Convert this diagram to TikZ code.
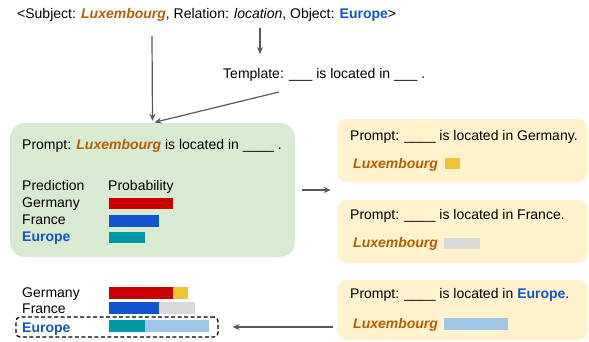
\documentclass[tikz,border=0pt]{standalone}
\usepackage{fontspec}
\setmainfont{Liberation Sans}
\usetikzlibrary{arrows.meta}
\definecolor{luxorange}{HTML}{B45F06}
\definecolor{eurblue}{HTML}{1155CC}
\definecolor{barred}{HTML}{CC0000}
\definecolor{barblue}{HTML}{1155CC}
\definecolor{barteal}{HTML}{0097A7}
\definecolor{baryellow}{HTML}{F1C232}
\definecolor{bargray}{HTML}{D9D9D9}
\definecolor{barlight}{HTML}{9FC5E8}
\definecolor{greenfill}{HTML}{D9EAD3}
\definecolor{yellowfill}{HTML}{FFF2CC}
\definecolor{arrowgray}{HTML}{595959}
\newcommand{\lux}{\textcolor{luxorange}{\textbf{\textit{Luxembourg}}}}
\newcommand{\eur}{\textcolor{eurblue}{\textbf{Europe}}}

\begin{document}
\begin{tikzpicture}[
		x = 1pt,
		y = -1pt,
		txt/.style = {
			anchor = base west,
			inner sep = 0,
			font = \fontsize{14}{16}\selectfont
		},
		greenbox/.style = {
			rectangle,
			fill = greenfill,
			rounded corners = 15pt,
			inner sep = 0,
			minimum width = 285pt,
			minimum height = 134pt
		},
		yellowbox/.style = {
			rectangle,
			fill = yellowfill,
			rounded corners = 10pt,
			inner sep = 0,
			minimum width = 251pt
		},
		dashbox/.style = {
			rectangle,
			draw,
			dash pattern = on 4pt off 2.5pt,
			line width = 1.2pt,
			rounded corners = 4pt,
			inner sep = 0,
			minimum width = 202pt,
			minimum height = 20pt
		},
		conn/.style = {
			draw = arrowgray,
			line width = 1.2pt,
			-{Stealth[length = 7pt, width = 6pt]}
		}
	]
	\useasboundingbox (0,0) rectangle (589,341);

	\node [txt] (triple) at (17,18) {<Subject: \lux, Relation: \textit{location}, Object: \eur>};
	\node [txt] (template) at (223,78) {Template: \_\_\_ is located in \_\_\_ .};

	\node [greenbox] (green) at (152.5,190) {};
	\node [yellowbox, minimum height = 63pt] (germanybox) at (462.5,150.5) {};
	\node [yellowbox, minimum height = 63pt] (francebox) at (462.5,231.5) {};
	\node [yellowbox, minimum height = 60pt] (europebox) at (462.5,310) {};

	\node [txt] (prompt) at (22,149) {Prompt: \lux{} is located in \_\_\_\_ .};
	\node [txt] (predhead) at (22,190) {Prediction};
	\node [txt] (probhead) at (108,190) {Probability};
	\node [txt] (germany) at (22,207) {Germany};
	\node [txt] (france) at (22,224) {France};
	\node [txt] (europe) at (22,241) {\eur};
	\fill [barred] (109,198) rectangle (173,209);
	\fill [barblue] (109,215) rectangle (159,227);
	\fill [barteal] (109,232) rectangle (145,243);

	\node [txt] (promptde) at (350,140) {Prompt: \_\_\_\_ is located in Germany.};
	\node [txt] (luxde) at (353,168) {\lux};
	\fill [baryellow] (445,158) rectangle (460,169);

	\node [txt] (promptfr) at (350,219) {Prompt: \_\_\_\_ is located in France.};
	\node [txt] (luxfr) at (353,247) {\lux};
	\fill [bargray] (444,238) rectangle (480,249);

	\node [txt] (prompteu) at (350,298.5) {Prompt: \_\_\_\_ is located in \eur.};
	\node [txt] (luxeu) at (353,328.5) {\lux};
	\fill [barlight] (444,318) rectangle (508,330);

	\node [txt] (germanyout) at (22,297.5) {Germany};
	\node [txt] (franceout) at (22,313.5) {France};
	\node [txt] (europeout) at (22,332) {\eur};
	\fill [barred] (109,287) rectangle (173,299);
	\fill [baryellow] (173,287) rectangle (188,299);
	\fill [barblue] (109,302) rectangle (159,314);
	\fill [bargray] (159,302) rectangle (195,314);
	\fill [barteal] (109,320) rectangle (145,332);
	\fill [barlight] (145,320) rectangle (209,332);
	\node [dashbox] (chosen) at (117,327) {};

	\coordinate (subjstart) at (152,36);
	\coordinate (relstart) at (260,28);
	\coordinate (relend) at (260,54);
	\coordinate (tplstart) at (279,92);

	\draw [conn, shorten > = 2pt] (subjstart) -- (green.north);
	\draw [conn] (relstart) -- (relend);
	\draw [conn, shorten > = 2pt] (tplstart) -- (green.north);
	\draw [conn, shorten < = 7pt, shorten > = 6pt] (green.east) -- (green.east -| germanybox.west);
	\draw [conn, shorten < = 4pt, shorten > = 14pt] (chosen.east -| europebox.west) -- (chosen.east);
\end{tikzpicture}
\end{document}
